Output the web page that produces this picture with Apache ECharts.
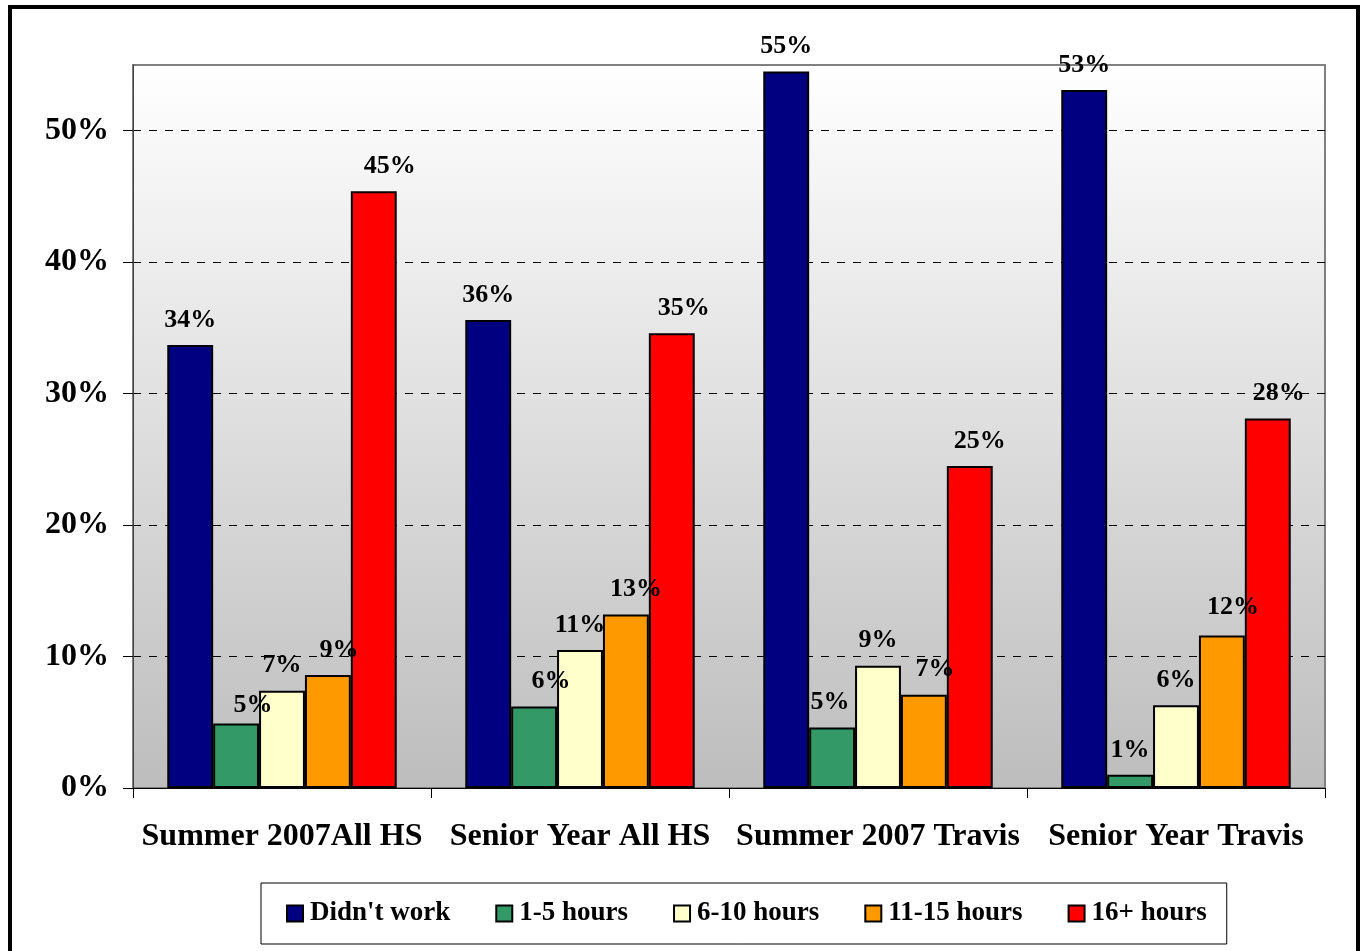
<!DOCTYPE html>
<html>
<head>
<meta charset="utf-8">
<script src="https://cdn.jsdelivr.net/npm/echarts@6/dist/echarts.min.js"></script>
<style>
html,body{margin:0;padding:0;background:#fff;}
#chart{width:1364px;height:951px;}
</style>
</head>
<body>
<div id="chart"></div>
<script>
// ---- data ----
const categories = ['Summer 2007All HS', 'Senior Year All HS', 'Summer 2007 Travis', 'Senior Year Travis'];
const seriesNames = ["Didn't work", '1-5 hours', '6-10 hours', '11-15 hours', '16+ hours'];
const didntWork = [33.7, 35.6, 54.5, 53.1];
const hours1to5 = [4.9, 6.2, 4.6, 1.0];
const hours6to10 = [7.4, 10.5, 9.3, 6.3];
const hours11to15 = [8.6, 13.2, 7.1, 11.6];
const hours16plus = [45.4, 34.6, 24.5, 28.1];
const yTicks = [0, 10, 20, 30, 40, 50];

// ---- styling (not data) ----
const colors = ['#000080', '#339966', '#FFFFCC', '#FF9900', '#FF0000'];
const labelShiftX = [
  [0, 0, 0, 0],
  [17, 17, -2, 0],
  [0, 0, 0, 0],
  [11, 10, 11, 11],
  [16, 12, 10, 11]
];
const labelShiftY = [
  [0, 0, 0, 0],
  [7, 0, 0, 0],
  [0, 0, 0, 0],
  [0, 0, 0, -3],
  [0, 0, 0, 0]
];
const FONT = '"Liberation Serif", "Times New Roman", serif';

const allValues = [didntWork, hours1to5, hours6to10, hours11to15, hours16plus];

const series = allValues.map((vals, si) => ({
  name: seriesNames[si],
  type: 'bar',
  barGap: '0%',
  barCategoryGap: '23%',
  itemStyle: { color: colors[si], borderColor: '#000', borderWidth: 2 },
  data: vals.map((v, ci) => ({
    value: v,
    label: { offset: [labelShiftX[si][ci], labelShiftY[si][ci]] }
  })),
  label: {
    show: true,
    position: 'top',
    distance: 12,
    fontFamily: FONT,
    fontWeight: 'bold',
    fontSize: 26,
    color: '#000',
    formatter: p => Math.round(p.value) + '%'
  }
}));

const chart = echarts.init(document.getElementById('chart'), null, { renderer: 'canvas' });
chart.setOption({
  backgroundColor: '#fff',
  animation: false,
  graphic: [{
    type: 'rect',
    shape: { x: 10, y: 7, width: 1348, height: 1000 },
    style: { fill: 'none', stroke: '#000', lineWidth: 4 },
    z: 100
  }],
  grid: {
    left: 133, right: 39, top: 65, bottom: 163,
    show: true,
    borderColor: '#808080',
    borderWidth: 2,
    backgroundColor: {
      type: 'linear', x: 0, y: 0, x2: 0, y2: 1,
      colorStops: [{ offset: 0, color: '#ffffff' }, { offset: 1, color: '#bdbdbd' }]
    }
  },
  legend: {
    left: 261,
    top: 883,
    data: seriesNames,
    itemWidth: 16,
    itemHeight: 16,
    itemGap: 45,
    padding: [17, 20, 17, 25],
    borderColor: '#000',
    borderWidth: 1,
    backgroundColor: '#fff',
    icon: 'rect',
    itemStyle: { borderColor: '#000', borderWidth: 2 },
    textStyle: { fontFamily: FONT, fontWeight: 'bold', fontSize: 27, color: '#000', lineHeight: 18, padding: [0, 0, 0, 2] }
  },
  xAxis: {
    type: 'category',
    data: categories,
    axisLine: { show: true, lineStyle: { color: '#000', width: 1 } },
    axisTick: { show: true, interval: 0, length: 10, lineStyle: { color: '#000' } },
    axisLabel: { interval: 0, fontFamily: FONT, fontWeight: 'bold', fontSize: 32, color: '#000', margin: 33 }
  },
  yAxis: {
    type: 'value',
    min: 0, max: 55, interval: 10,
    axisLine: { show: true, lineStyle: { color: '#404040', width: 1 } },
    axisTick: { show: true, length: 10, lineStyle: { color: '#000' } },
    splitLine: { show: true, showMaxLine: false, lineStyle: { color: '#000', type: [8, 8], width: 1 } },
    axisLabel: {
      fontFamily: FONT, fontWeight: 'bold', fontSize: 32, color: '#000', margin: 24,
      showMaxLabel: false,
      formatter: v => (yTicks.indexOf(v) >= 0 ? v + '%' : '')
    }
  },
  series: series
});
</script>
</body>
</html>
